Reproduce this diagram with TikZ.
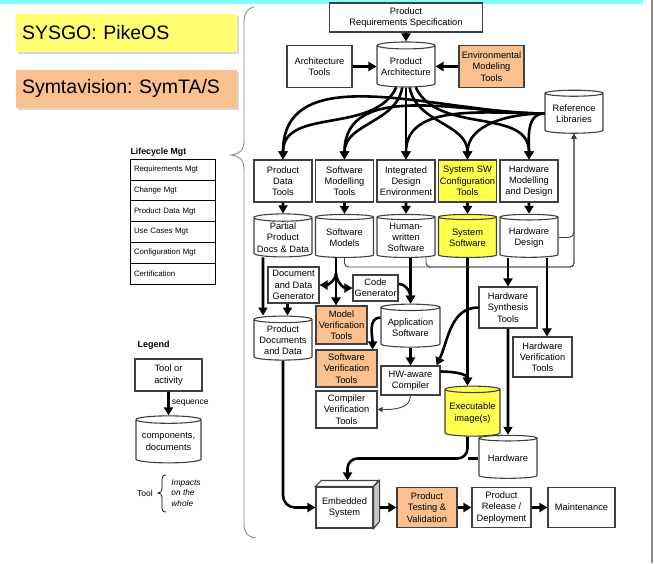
\documentclass[tikz,border=0pt]{standalone}
\usepackage{fontspec}
\setmainfont{Liberation Sans}
\usetikzlibrary{positioning,shapes.geometric,arrows.meta,shadows}

\definecolor{lineGray}{RGB}{64,64,64}
\definecolor{braceGray}{RGB}{140,140,140}
\definecolor{sysYellow}{RGB}{255,255,77}
\definecolor{symOrange}{RGB}{250,192,143}
\definecolor{topCyan}{RGB}{128,255,255}

\newcommand{\boxfont}{\fontsize{9.3}{11.3}\selectfont}
\frenchspacing

\begin{document}
\begin{tikzpicture}[x=1pt,y=-1pt,node distance=61.5pt,on grid,
  tool/.style={draw=lineGray,line width=1.1pt,fill=white,minimum width=58pt,minimum height=42pt,
    inner sep=0pt,align=center,font=\boxfont},
  store/.style={cylinder,shape border rotate=90,aspect=0.14,draw=lineGray,line width=1.1pt,fill=white,
    minimum width=58pt,minimum height=43pt,inner sep=0pt,align=center,font=\boxfont},
  flow/.style={-{Triangle[length=8pt,width=9pt]},line width=2.6pt},
  link/.style={-{Triangle[length=5pt,width=5pt]},line width=0.9pt,draw=lineGray},
  mgt/.style={draw=black,line width=0.8pt,minimum width=85pt,minimum height=20.8pt,inner sep=0pt,
    text width=77pt,align=left,font=\fontsize{7.8}{9}\selectfont},
  banner/.style={minimum width=221pt,minimum height=38pt,inner sep=0pt,text width=209pt,align=left,
    font=\fontsize{19.5}{22}\selectfont,drop shadow={shadow xshift=2pt,shadow yshift=-2pt,fill=black!30}}]
  \useasboundingbox (0,0) rectangle (654,563);
  \fill[topCyan] (0,0) rectangle (643,4);
  \draw[braceGray,line width=1.3pt] (652,0) -- (652,563);

  % vendors
  \node[banner,fill=sysYellow!80] (sysgo) at (126.5,33) {SYSGO: PikeOS};
  \node[banner,fill=symOrange] (symta) at (126.5,88.5) {Symtavision: SymTA/S};

  % lifecycle management
  \node[font=\bfseries\fontsize{8.8}{10}\selectfont,anchor=west] (lctitle) at (127,152) {Lifecycle Mgt};
  \node[mgt] (lc1) at (172.5,169.5) {Requirements Mgt};
  \node[mgt] (lc2) [below=20.8pt of lc1] {Change Mgt};
  \node[mgt] (lc3) [below=20.8pt of lc2] {Product Data Mgt};
  \node[mgt] (lc4) [below=20.8pt of lc3] {Use Cases Mgt};
  \node[mgt] (lc5) [below=20.8pt of lc4] {Configuration Mgt};
  \node[mgt] (lc6) [below=20.8pt of lc5] {Certification};
  \draw[braceGray,line width=0.9pt] (254,7) .. controls (246,9) and (244,14) .. (244,24) -- (244,140)
    .. controls (244,150) and (240,154) .. (231,155) .. controls (240,156) and (244,160) .. (244,170)
    -- (244,524) .. controls (244,532) and (247,537) .. (256,538);

  % legend
  \node[font=\bfseries\fontsize{9}{10}\selectfont,anchor=west] (legend) at (134,345) {Legend};
  \node[tool,minimum width=67pt,minimum height=32pt] (lgtool) at (168.5,375) {Tool or\\activity};
  \node[store,minimum width=65pt,minimum height=47pt] (lgdoc) at (168.5,441.5) {components,\\documents};
  \path[flow] (lgtool) edge node[right,inner sep=2pt,font=\fontsize{8.5}{10}\selectfont] {sequence} (lgdoc);
  \node[font=\fontsize{8.5}{10}\selectfont] (lgword) at (145,493) {Tool};
  \node[font=\itshape\fontsize{8.3}{10.5}\selectfont,align=left] (lgimpact) at (186,493) {Impacts\\on the\\whole};
  \draw[line width=0.7pt] (166,475) .. controls (162,475) and (162,478) .. (162,482) -- (162,489)
    .. controls (162,492) and (160,493) .. (158,493) .. controls (160,493) and (162,494) .. (162,497)
    -- (162,506) .. controls (162,510) and (162,512) .. (166,512);

  % architecture
  \node[tool,minimum width=153pt,minimum height=29pt] (prs) at (406,17.5) {Product\\Requirements Specification};
  \node[store,minimum height=45pt] (pa) at (406,66.5) {Product\\Architecture};
  \node[tool,minimum width=65pt] (at) at (319.5,66.5) {Architecture\\Tools};
  \node[tool,minimum width=65pt,fill=symOrange] (emt) at (491.5,66.5) {Environmental\\Modeling\\Tools};
  \node[store] (rl) at (574,113.5) {Reference\\Libraries};

  % tools and their products
  \node[tool] (pdt) at (283,181) {Product\\Data\\Tools};
  \node[tool] (smt) [right=of pdt] {Software\\Modelling\\Tools};
  \node[tool] (ide) [right=of smt] {Integrated\\Design\\Environment};
  \node[tool,fill=sysYellow] (sct) [right=of ide] {System SW\\Configuration\\Tools};
  \node[tool] (hmd) [right=of sct] {Hardware\\Modelling\\and Design};
  \node[store] (ppd) [below=56.5pt of pdt] {Partial\\Product\\Docs \& Data};
  \node[store] (sm) [below=56.5pt of smt] {Software\\Models};
  \node[store] (hws) [below=56.5pt of ide] {Human-\\written\\Software};
  \node[store,fill=sysYellow] (ss) [below=56.5pt of sct] {System\\Software};
  \node[store] (hd) [below=56.5pt of hmd] {Hardware\\Design};

  % generation and verification
  \node[tool,minimum width=51pt,minimum height=36pt] (ddg) at (293.5,285) {Document\\and Data\\Generator};
  \node[tool,minimum width=45pt,minimum height=26pt] (cg) at (375.5,288) {Code\\Generator};
  \node[store,minimum height=44pt] (pdd) at (283,340) {Product\\Documents\\and Data};
  \node[tool,minimum width=51pt,minimum height=38pt,fill=symOrange] (mvt) at (341.5,325) {Model\\Verification\\Tools};
  \node[store,minimum width=59pt] (as) at (410.5,327.5) {Application\\Software};
  \node[tool,minimum width=61pt,minimum height=37pt,fill=symOrange] (svt) at (346.5,368.5) {Software\\Verification\\Tools};
  \node[tool,minimum width=59pt,minimum height=29pt] (hwc) at (410.5,380.5) {HW-aware\\Compiler};
  \node[tool,minimum width=61pt,minimum height=37pt] (cvt) at (346.5,409.5) {Compiler\\Verification\\Tools};
  \node[tool,minimum height=41pt] (hst) at (508,307.5) {Hardware\\Synthesis\\Tools};
  \node[tool,minimum width=59pt,minimum height=40pt] (hvt) at (542.5,357) {Hardware\\Verification\\Tools};
  \node[store,minimum width=55pt,minimum height=50pt,fill=sysYellow] (exe) at (472.5,413) {Executable\\image(s)};
  \node[store] (hw) at (508,458.5) {Hardware};

  % product life
  \node[tool,minimum width=57pt,minimum height=41pt] (es) at (344.5,507.5) {Embedded\\System};
  \draw[lineGray,line width=1.1pt,fill=white] (es.north west) -- ++(6,-6) -- ++(57,0) -- (es.north east) -- cycle;
  \draw[lineGray,line width=1.1pt,fill=gray!45] (es.north east) -- ++(6,-6) -- ++(0,41) -- (es.south east) -- cycle;
  \coordinate (estop) at ([xshift=3pt,yshift=6pt]es.north);
  \node[tool,minimum width=60pt,minimum height=40pt,fill=symOrange] (ptv) [right=82.5pt of es] {Product\\Testing \&\\Validation};
  \node[tool,minimum width=59pt,minimum height=40pt] (prd) [right=74.5pt of ptv] {Product\\Release /\\Deployment};
  \node[tool,minimum width=67pt,minimum height=40pt] (mnt) [right=80pt of prd] {Maintenance};

  \coordinate (smfork) at (336,273);
  \coordinate (bus) at (574,267);

  \path[flow]
  (prs) edge (pa)
  (at) edge (pa)
  (emt) edge (pa)
  (pa) edge [out=-115,in=90] (pdt)
  edge [out=-100,in=90] (smt)
  edge [] (ide)
  edge [out=-80,in=90] (sct)
  edge [out=-65,in=90] (hmd)
  (rl) edge [out=180,in=90] (pdt)
  edge [out=180,in=90] (smt)
  edge [out=180,in=90] (ide)
  edge [out=180,in=90] (sct)
  edge [out=180,in=90] (hmd)
  (pdt) edge (ppd)
  (smt) edge (sm)
  (ide) edge (hws)
  (sct) edge (ss)
  (hmd) edge (hd)
  ([xshift=-20pt]ppd.south) edge ([xshift=-20pt]pdd.north)
  ([xshift=-6pt]ddg.south) edge ([xshift=-6pt]ddg.south |- pdd.north)
  (smfork) edge (smfork |- mvt.north)
  edge [out=-90,in=0] (ddg.east)
  edge [out=-90,in=180] (cg.west)
  (as.north |- hws.south) edge (as.north)
  ([yshift=4pt]cg.east) edge [out=0,in=90] (as.north)
  ([yshift=10pt]as.west) edge [out=180,in=90] ([xshift=-5pt]svt.north east)
  (as) edge (hwc)
  (hst.west) edge [out=180,in=65] ([xshift=-4pt]hwc.north east)
  (ss) edge (ss.south |- exe.north)
  ([yshift=9pt]hwc.east) edge [out=0,in=90] (ss.south |- exe.north)
  (hst |- hd.south) edge (hst)
  ([xshift=18pt]hd.south) edge ([xshift=18pt]hd.south |- hvt.north)
  (hst) edge (hw)
  ([xshift=6pt]es.east) edge (ptv)
  (ptv) edge (prd)
  (prd) edge (mnt)
  ;
  \draw[line width=2.6pt] (smfork |- sm.south) -- (smfork);
  \draw[flow,rounded corners=12pt] (pdd) |- (es);
  \draw[flow,rounded corners=10pt] (ss.south |- exe.south) -- (ss.south |- hw.west) -| (estop);
  \draw[line width=2.6pt] (hw.west) -- (ss.south |- hw.west);

  \draw[link] (hwc.south) to [out=-90,in=0] (cvt.east);
  \draw[link,rounded corners=4pt] (sm.south) |- (bus) -- (rl.south);
  \draw[link,rounded corners=4pt] ([xshift=20pt]hws.south) |- (bus) -- (rl.south);
  \draw[link,rounded corners=6pt] (hd.east) -| (rl.south);
\end{tikzpicture}
\end{document}
